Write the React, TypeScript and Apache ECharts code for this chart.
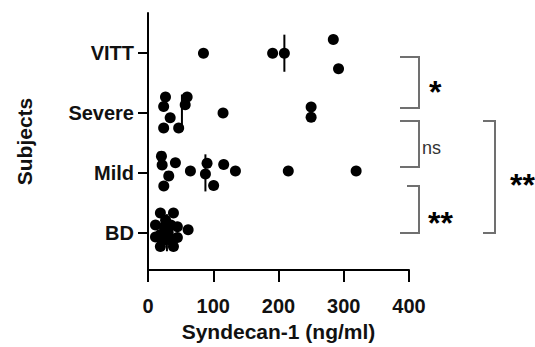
import React, { useEffect, useRef } from "react";
import * as echarts from "echarts";

const categories = ["BD", "Mild", "Severe", "VITT"];
const xTicks = [0, 100, 200, 300, 400];

// Syndecan-1 values (ng/ml) and vertical scatter spread (in category units)
const bdValues = [19, 39, 11.5, 45, 11.5, 45, 19, 39, 27, 31, 22, 35, 61.5, 25, 34, 19];
const bdSpread = [0.33, 0.33, 0.13, 0.1, -0.07, -0.08, -0.23, -0.23, 0.21, 0, -0.13, 0.13, 0.05, 0.1, -0.12, -0.03];
const mildValues = [20.6, 21.7, 42, 31.8, 24.2, 65, 90.5, 88, 100.6, 116, 134, 215, 319];
const mildSpread = [0.28, 0.13, 0.17, -0.05, -0.22, 0.03, 0.16, -0.02, -0.21, 0.14, 0.03, 0.03, 0.03];
const severeValues = [26.8, 60, 24, 57, 34, 24, 47, 115, 250, 250];
const severeSpread = [0.27, 0.27, 0.11, 0.14, -0.08, -0.25, -0.25, 0, 0.1, -0.07];
const vittValues = [85, 191, 209, 284, 292];
const vittSpread = [0, 0, 0, 0.23, -0.26];

const groups = [
  { values: bdValues, spread: bdSpread },
  { values: mildValues, spread: mildSpread },
  { values: severeValues, spread: severeSpread },
  { values: vittValues, spread: vittSpread },
];

const median = (arr: number[]) => {
  const s = [...arr].sort((a, b) => a - b);
  const n = s.length;
  return n % 2 ? s[(n - 1) / 2] : (s[n / 2 - 1] + s[n / 2]) / 2;
};

const FONT = "'Liberation Sans', Arial, sans-serif";

export default function App() {
  const ref = useRef<HTMLDivElement>(null);
  useEffect(() => {
    if (!ref.current) return;
    const chart = echarts.init(ref.current, undefined, { renderer: "svg" });

    const scatterSeries = groups.map((g, gi) => ({
      type: "scatter",
      symbol: "circle",
      symbolSize: 11,
      itemStyle: { color: "#000", opacity: 1 },
      data: g.values.map((v, i) => [v, gi + g.spread[i]]),
      z: 3,
    }));
    const medianSeries = groups.map((g, gi) => {
      const m = median(g.values);
      return {
        type: "line",
        symbol: "none",
        lineStyle: { color: "#000", width: 2 },
        data: [
          [m, gi - 0.31],
          [m, gi + 0.31],
        ],
        z: 4,
      };
    });

    const bracketStyle = { stroke: "#707070", lineWidth: 2, fill: "none" };
    const starSize = 32;

    chart.setOption({
      animation: false,
      grid: { left: 148, right: 126, top: 13, bottom: 72, containLabel: false },
      xAxis: {
        type: "value",
        min: 0,
        max: 400,
        interval: 100,
        name: "Syndecan-1 (ng/ml)",
        nameLocation: "middle",
        nameGap: 51,
        nameTextStyle: { fontFamily: FONT, fontSize: 21, fontWeight: "bold", color: "#111", verticalAlign: "top" },
        axisLine: { show: true, onZero: false, lineStyle: { color: "#000", width: 2 } },
        axisTick: { show: true, length: 12, lineStyle: { color: "#000", width: 2 } },
        axisLabel: {
          fontFamily: FONT,
          fontSize: 20,
          fontWeight: "bold",
          color: "#111",
          margin: 26,
          formatter: (v: number) => (xTicks.includes(v) ? String(v) : ""),
        },
        splitLine: { show: false },
      },
      yAxis: {
        type: "value",
        min: -0.623,
        max: 3.672,
        name: "Subjects",
        nameLocation: "middle",
        nameGap: 113,
        nameTextStyle: { fontFamily: FONT, fontSize: 21, fontWeight: "bold", color: "#111" },
        axisLine: { show: true, onZero: false, lineStyle: { color: "#000", width: 2 } },
        axisTick: { show: true, length: 10, customValues: [0, 1, 2, 3], lineStyle: { color: "#000", width: 2 } },
        axisLabel: {
          fontFamily: FONT,
          fontSize: 20,
          fontWeight: "bold",
          color: "#111",
          margin: 14,
          customValues: [0, 1, 2, 3],
          formatter: (v: number) => categories[Math.round(v)] ?? "",
        },
        splitLine: { show: false },
      },
      series: [...scatterSeries, ...medianSeries],
      graphic: [
        { type: "polyline", shape: { points: [[400, 57], [419, 57], [419, 108], [400, 108]] }, style: bracketStyle },
        { type: "polyline", shape: { points: [[400, 121], [419, 121], [419, 167], [400, 167]] }, style: bracketStyle },
        { type: "polyline", shape: { points: [[407, 186], [419, 186], [419, 233], [400, 233]] }, style: bracketStyle },
        { type: "polyline", shape: { points: [[483, 121], [495, 121], [495, 233], [483, 233]] }, style: bracketStyle },
        {
          type: "text",
          x: 429,
          y: 85 + 0.23 * starSize,
          style: { text: "*", fontFamily: FONT, fontSize: starSize, fontWeight: "bold", fill: "#000", verticalAlign: "middle" },
        },
        {
          type: "text",
          x: 422,
          y: 148,
          style: { text: "ns", fontFamily: FONT, fontSize: 18, fill: "#333", verticalAlign: "middle" },
        },
        {
          type: "text",
          x: 428,
          y: 216 + 0.23 * starSize,
          style: { text: "**", fontFamily: FONT, fontSize: starSize, fontWeight: "bold", fill: "#000", verticalAlign: "middle" },
        },
        {
          type: "text",
          x: 510,
          y: 178 + 0.23 * starSize,
          style: { text: "**", fontFamily: FONT, fontSize: starSize, fontWeight: "bold", fill: "#000", verticalAlign: "middle" },
        },
      ],
    });
    return () => chart.dispose();
  }, []);
  return <div ref={ref} style={{ width: 535, height: 347, position: "absolute", left: 0, top: 0 }} />;
}
